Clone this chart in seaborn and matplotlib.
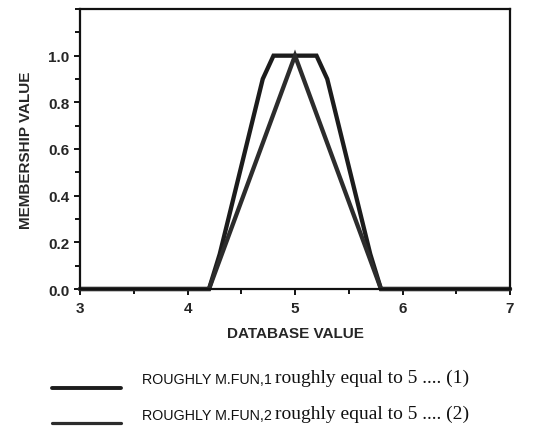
import matplotlib
matplotlib.use("Agg")
import matplotlib.pyplot as plt
import seaborn as sns
import pandas as pd
from matplotlib.lines import Line2D
from matplotlib.ticker import MultipleLocator

# ---- data ----
x_fun1 = [3.0, 4.2, 4.3, 4.7, 4.8, 5.2, 5.3, 5.7, 5.8, 7.0]
y_fun1 = [0.0, 0.0, 0.15, 0.9, 1.0, 1.0, 0.9, 0.15, 0.0, 0.0]
x_fun2 = [3.0, 4.2, 5.0, 5.8, 7.0]
y_fun2 = [0.0, 0.0, 1.0, 0.0, 0.0]
legend_sans = ["ROUGHLY M.FUN,1", "ROUGHLY M.FUN,2"]
legend_serif = ["roughly equal to 5 .... (1)", "roughly equal to 5 .... (2)"]
x_ticks = [3, 4, 5, 6, 7]
y_ticks = [0.0, 0.2, 0.4, 0.6, 0.8, 1.0]
y_tick_labels = ["0.0", "0.2", "0.4", "0.6", "0.8", "1.0"]
x_label = "DATABASE VALUE"
y_label = "MEMBERSHIP VALUE"

sns.set_theme(style="ticks")
plt.rcParams["font.family"] = ["Liberation Sans", "DejaVu Sans"]

W, H = 552, 431
fig = plt.figure(figsize=(W / 100, H / 100), dpi=100)
ax = fig.add_axes([80 / W, 1 - 290 / H, 430 / W, 280 / H])

c1 = "#1c1c1c"
c2 = "#2c2c2c"
df1 = pd.DataFrame({"x": x_fun1, "y": y_fun1})
df2 = pd.DataFrame({"x": x_fun2, "y": y_fun2})
sns.lineplot(data=df1, x="x", y="y", ax=ax, color=c1, lw=3.1, estimator=None,
             sort=False, clip_on=False, solid_joinstyle="miter")
sns.lineplot(data=df2, x="x", y="y", ax=ax, color=c2, lw=3.1, estimator=None,
             sort=False, clip_on=False, solid_joinstyle="miter")

ax.set_xlim(3, 7)
ax.set_ylim(0, 1.2)
ax.set_xticks(x_ticks)
ax.set_yticks(y_ticks)
ax.set_yticklabels(y_tick_labels)
ax.xaxis.set_minor_locator(MultipleLocator(0.5))
ax.yaxis.set_minor_locator(MultipleLocator(0.1))
for s in ax.spines.values():
    s.set_visible(True)
    s.set_linewidth(1.6)
    s.set_color("#111111")
ax.tick_params(axis="both", which="both", direction="out", width=1.4,
               color="#111111")
ax.tick_params(axis="both", which="major", length=4.5, labelsize=11)
ax.tick_params(axis="both", which="minor", length=3.5)
ax.tick_params(axis="y", pad=3)
ax.tick_params(axis="x", pad=4)
for t in ax.get_xticklabels() + ax.get_yticklabels():
    t.set_fontweight("bold")
ax.set_xlabel(x_label, fontsize=11, fontweight="bold", labelpad=8)
ax.set_ylabel(y_label, fontsize=11, fontweight="bold", labelpad=11)

# ---- legend rows ----
key_y = [389, 424]
text_y = [380, 416]
key_colors = [c1, c2]
key_widths = [2.8, 2.3]
for i in range(2):
    yk = 1 - key_y[i] / H
    fig.add_artist(Line2D([52 / W, 121 / W], [yk, yk], transform=fig.transFigure,
                          color=key_colors[i], lw=key_widths[i]))
    t = fig.text(142 / W, 1 - text_y[i] / H, legend_sans[i], fontsize=10.3,
                 ha="left", va="center", color="#111111")
    ax.annotate(legend_serif[i], xy=(1, 0.5), xycoords=t, xytext=(2, 1.5),
                textcoords="offset points", fontsize=14,
                family=["Liberation Serif", "DejaVu Serif"],
                ha="left", va="center", color="#111111", annotation_clip=False)

fig.savefig("out.png", dpi=100)
